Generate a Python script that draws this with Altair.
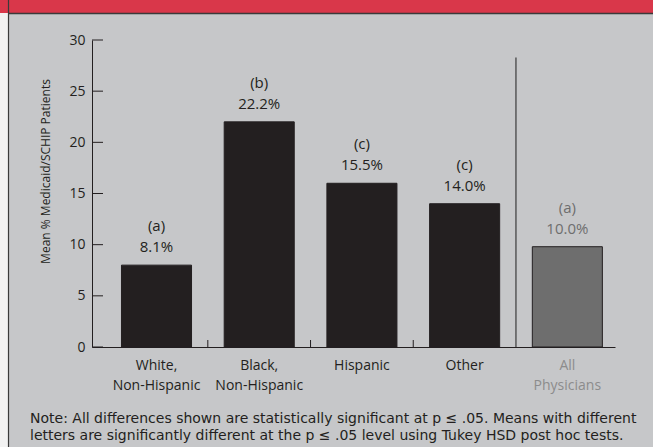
import altair as alt
import pandas as pd

# ---- data ----
categories = ["White,\nNon-Hispanic", "Black,\nNon-Hispanic", "Hispanic", "Other", "All\nPhysicians"]
bar_values = [8.0, 22.0, 16.0, 14.0, 9.8]
letters = ["(a)", "(b)", "(c)", "(c)", "(a)"]
pct_labels = ["8.1%", "22.2%", "15.5%", "14.0%", "10.0%"]
groups = ["race", "race", "race", "race", "all"]
y_tick_values = [0, 5, 10, 15, 20, 25, 30]
tick_after = ["White,\nNon-Hispanic", "Black,\nNon-Hispanic", "Hispanic"]
separator_after = ["Other"]
separator_top = [28.3]
note_lines = [
    "Note: All differences shown are statistically significant at p \u2264 .05. Means with different",
    "letters are significantly different at the p \u2264 .05 level using Tukey HSD post hoc tests.",
]
y_title = "Mean % Medicaid/SCHIP Patients"

# ---- styling ----
INK = "#231f20"
BG = "#c6c7c9"
RED = "#d9374a"
FONT = "Open Sans"
W, H = 523, 307
PAD_L, PAD_T, PAD_R, PAD_B = 92, 40, 38, 100

bars = pd.DataFrame({"cat": categories, "value": bar_values, "letter": letters,
                     "pct": pct_labels, "group": groups})
ticks_df = pd.DataFrame({"v": y_tick_values})
xticks_df = pd.DataFrame({"cat": tick_after})
sep_df = pd.DataFrame({"cat": separator_after, "top": separator_top})
notes_df = pd.DataFrame({"note": ["\n".join(note_lines)]})
dummy = pd.DataFrame({"d": [0]})

xscale = alt.Scale(domain=categories, paddingInner=0.318, paddingOuter=0.205, align=0.70)
yscale = alt.Scale(domain=[0, 30], nice=False)
fill_scale = alt.Scale(domain=["race", "all"], range=[INK, "#6e6e6e"])
text_scale = alt.Scale(domain=["race", "all"], range=[INK, "#7a7a7a"])

x_enc = alt.X(
    "cat:N", scale=xscale, sort=categories, title=None,
    axis=alt.Axis(
        labelAngle=0, ticks=False, domainColor=INK, domainWidth=1,
        labelFont=FONT, labelFontSize=14, labelLineHeight=20, labelPadding=11,
        labelExpr="split(datum.label, '\\n')",
        labelColor=alt.condition("indexof(datum.value, 'Physicians') >= 0",
                                 alt.value("#8c8c8c"), alt.value(INK)),
    ),
)
y_enc = alt.Y(
    "value:Q", scale=yscale, title=y_title,
    axis=alt.Axis(
        values=y_tick_values, ticks=False, grid=False, domainColor=INK, domainWidth=1,
        labelFont=FONT, labelFontSize=14, labelColor=INK, labelPadding=7,
        titleFont=FONT, titleFontSize=12, titleFontWeight="normal", titleColor=INK,
        titleAngle=-90, titleAlign="center", titleBaseline="middle",
        titleX=-47, titleY=131,
    ),
)

bar_layer = alt.Chart(bars).mark_bar(stroke=INK, strokeWidth=1).encode(
    x=x_enc, y=y_enc,
    color=alt.Color("group:N", scale=fill_scale, legend=None),
)

pct_layer = alt.Chart(bars).mark_text(font=FONT, fontSize=15, baseline="middle", dy=-18).encode(
    x=alt.X("cat:N", scale=xscale, sort=categories),
    y=alt.Y("value:Q", scale=yscale),
    text="pct:N",
    color=alt.Color("group:N", scale=text_scale, legend=None),
)
letter_layer = alt.Chart(bars).mark_text(font=FONT, fontSize=15, baseline="middle", dy=-39).encode(
    x=alt.X("cat:N", scale=xscale, sort=categories),
    y=alt.Y("value:Q", scale=yscale),
    text="letter:N",
    color=alt.Color("group:N", scale=text_scale, legend=None),
)

ytick_layer = alt.Chart(ticks_df).mark_rule(color=INK, strokeWidth=1).encode(
    x=alt.value(0), x2=alt.value(11),
    y=alt.Y("v:Q", scale=yscale),
)

xtick_layer = alt.Chart(xticks_df).mark_rule(color=INK, strokeWidth=1, xOffset=16.3).encode(
    x=alt.X("cat:N", scale=xscale, sort=categories, bandPosition=1),
    y=alt.value(H), y2=alt.value(H - 7),
)

sep_layer = alt.Chart(sep_df).mark_rule(color="#3a3a3a", strokeWidth=1.2, xOffset=16.3).encode(
    x=alt.X("cat:N", scale=xscale, sort=categories, bandPosition=1),
    y=alt.Y("top:Q", scale=yscale), y2=alt.datum(0),
)

# frame decorations (header band, left strip and border)
red_band = alt.Chart(dummy).mark_rect(color=RED).encode(
    x=alt.value(-PAD_L), x2=alt.value(W + PAD_R), y=alt.value(-PAD_T), y2=alt.value(-PAD_T + 13))
band_line = alt.Chart(dummy).mark_rule(color="#3a3a3a", strokeWidth=1.5).encode(
    x=alt.value(-PAD_L + 8), x2=alt.value(W + PAD_R), y=alt.value(-PAD_T + 13.5))
left_strip = alt.Chart(dummy).mark_rect(color="#f2f2f2").encode(
    x=alt.value(-PAD_L), x2=alt.value(-PAD_L + 8), y=alt.value(-PAD_T), y2=alt.value(H + PAD_B))
left_border = alt.Chart(dummy).mark_rule(color="#3a3a3a", strokeWidth=1.2).encode(
    x=alt.value(-PAD_L + 8.5), y=alt.value(-PAD_T), y2=alt.value(H + PAD_B))

note_layer = alt.Chart(notes_df).mark_text(
    font="DejaVu Sans", fontSize=14, align="left", baseline="alphabetic", color=INK,
    lineBreak="\n", lineHeight=17,
).encode(
    x=alt.value(-PAD_L + 30),
    y=alt.value(H + 76),
    text="note:N",
)

chart = alt.layer(
    left_strip, red_band, band_line, left_border,
    bar_layer, pct_layer, letter_layer, ytick_layer, xtick_layer, sep_layer, note_layer,
).properties(
    width=W, height=H,
    autosize=alt.AutoSizeParams(type="none"),
    padding={"left": PAD_L, "top": PAD_T, "right": PAD_R, "bottom": PAD_B},
    background=BG,
).configure_view(stroke=None)

chart.save("out.html", embed_options={"renderer": "svg", "actions": False})
